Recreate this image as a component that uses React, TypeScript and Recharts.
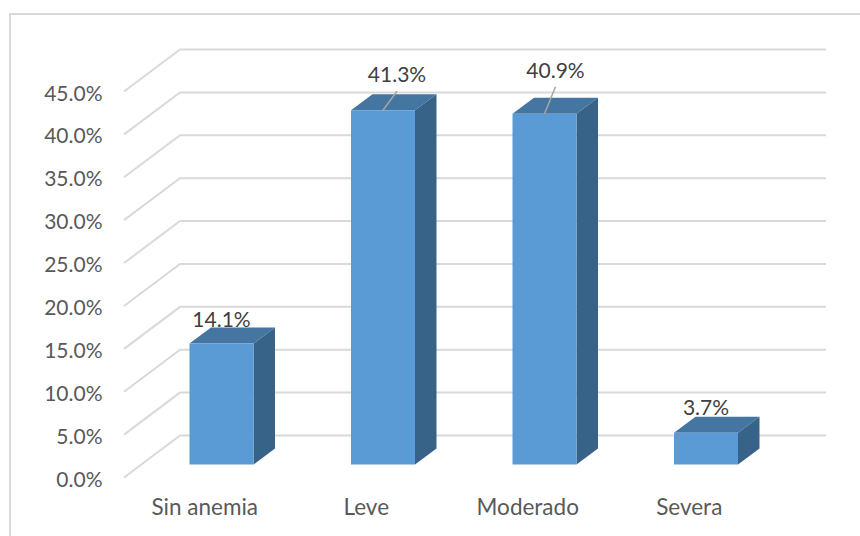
import { BarChart, Bar, XAxis, YAxis, CartesianGrid, LabelList } from 'recharts';

const categories = ['Sin anemia', 'Leve', 'Moderado', 'Severa'];
const percentages = [14.1, 41.3, 40.9, 3.7];
const yTicks = [0, 5, 10, 15, 20, 25, 30, 35, 40, 45];

const data = categories.map((name, i) => ({ name, value: percentages[i] }));

// label nudges from the top of each bar, and whether it has a leader line
const labelNudges = [
  { dx: 0, dy: -17, leader: false },
  { dx: 14, dy: -28, leader: true },
  { dx: 11, dy: -36, leader: true },
  { dx: 0, dy: -18, leader: false },
];

const FONT = 'Lato, sans-serif';
const FONT_SIZE = 21;

// the fake 3D look: floor is 56px deep, bars are 22px deep
const FLOOR_DX = 16.5;
const FLOOR_FRONT = 13;
const BACK_X = 39.5;
const BACK_Y = 29;
const BAR_DX = 21.5;
const BAR_DY = 16;

function GridLine(props: any) {
  const { x1, x2, y1 } = props;
  return (
    <polyline
      key={`grid-${y1}`}
      points={`${x1 - FLOOR_DX},${y1 + FLOOR_FRONT} ${x1 + BACK_X},${y1 - BACK_Y} ${x2 + BACK_X},${y1 - BACK_Y}`}
      fill="none"
      stroke="#d9d9d9"
      strokeWidth={2}
    />
  );
}

function Box3D(props: any) {
  const { x, y, width, height } = props;
  const r = x + width;
  const b = y + height;
  return (
    <g>
      <polygon
        points={`${x},${y} ${x + BAR_DX},${y - BAR_DY} ${r + BAR_DX},${y - BAR_DY} ${r},${y}`}
        fill="#4575a1"
      />
      <polygon
        points={`${r},${y} ${r + BAR_DX},${y - BAR_DY} ${r + BAR_DX},${b - BAR_DY} ${r},${b}`}
        fill="#376389"
      />
      <rect x={x} y={y} width={width} height={height} fill="#5b9bd5" />
    </g>
  );
}

function ValueLabel(props: any) {
  const { x, y, width, value, index } = props;
  const nudge = labelNudges[index];
  const cx = x + width / 2;
  return (
    <g>
      {nudge.leader && (
        <line
          x1={cx}
          y1={y}
          x2={cx + nudge.dx}
          y2={y + nudge.dy + 9}
          stroke="#a6a6a6"
          strokeWidth={1.5}
        />
      )}
      <text
        x={cx + nudge.dx}
        y={y + nudge.dy}
        textAnchor="middle"
        fontFamily={FONT}
        fontSize={FONT_SIZE}
        fill="#404040"
      >
        {`${Number(value).toFixed(1)}%`}
      </text>
    </g>
  );
}

function YTick(props: any) {
  const { x, y, payload } = props;
  return (
    <text x={x} y={y + FLOOR_FRONT + 9} textAnchor="end" fontFamily={FONT} fontSize={FONT_SIZE} fill="#595959">
      {`${payload.value.toFixed(1)}%`}
    </text>
  );
}

function XTick(props: any) {
  const { x, payload } = props;
  return (
    <text x={x - FLOOR_DX} y={515} textAnchor="middle" fontFamily={FONT} fontSize={22.5} fill="#595959">
      {payload.value}
    </text>
  );
}

export default function App() {
  return (
    <div style={{ position: 'absolute', left: 0, top: 0, width: 860, height: 536, overflow: 'hidden', background: '#fff' }}>
      <div
        style={{
          position: 'absolute',
          left: 9,
          top: 13,
          width: 860,
          height: 540,
          borderLeft: '2px solid #d9d9d9',
          borderTop: '2px solid #d9d9d9',
        }}
      />
      <div style={{ position: 'absolute', left: 0, top: 0 }}>
        <BarChart
          width={860}
          height={536}
          data={data}
          margin={{ top: 78.5, right: 73.5, bottom: 41.5, left: 100.5 }}
          style={{ overflow: 'visible' }}
        >
          <CartesianGrid horizontal={GridLine} vertical={false} />
          <XAxis dataKey="name" axisLine={false} tickLine={false} tick={XTick} height={30} />
          <YAxis
            width={40}
            domain={[0, 45]}
            ticks={yTicks}
            axisLine={false}
            tickLine={false}
            tickSize={0}
            tickMargin={38}
            tick={YTick}
          />
          <Bar dataKey="value" barSize={64} shape={Box3D} isAnimationActive={false}>
            <LabelList dataKey="value" content={ValueLabel} />
          </Bar>
        </BarChart>
      </div>
    </div>
  );
}
